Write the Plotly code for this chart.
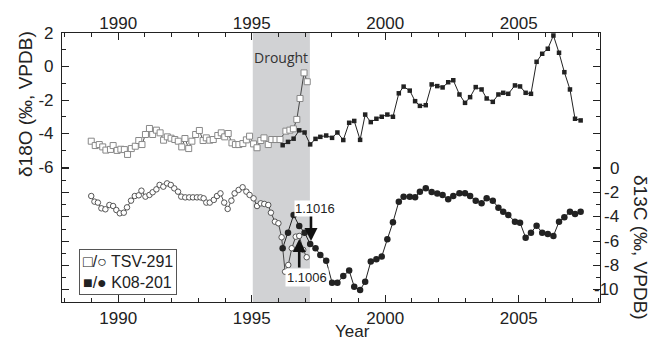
import plotly.graph_objects as go

# ---------------- data ----------------
tsv_o_years = [1988.99, 1989.14, 1989.29, 1989.42, 1989.54, 1989.71, 1989.81, 1989.96, 1990.10, 1990.23,
               1990.35, 1990.49, 1990.64, 1990.77, 1990.89, 1991.02, 1991.17, 1991.29, 1991.43, 1991.57,
               1991.70, 1991.84, 1991.98, 1992.12, 1992.25, 1992.38, 1992.50, 1992.64, 1992.76, 1992.90,
               1993.04, 1993.18, 1993.30, 1993.43, 1993.56, 1993.73, 1993.86, 1993.99, 1994.12, 1994.26,
               1994.39, 1994.52, 1994.67, 1994.80, 1994.92, 1995.07, 1995.20, 1995.34, 1995.46, 1995.62,
               1995.75, 1995.91, 1996.06, 1996.28, 1996.43, 1996.56, 1996.69, 1996.81, 1996.96, 1997.08]
tsv_d18o = [-4.46, -4.72, -4.66, -4.80, -4.99, -4.95, -4.72, -5.01, -4.94, -4.96,
            -5.25, -4.90, -4.76, -4.42, -4.66, -4.06, -3.70, -4.06, -3.80, -3.96,
            -4.40, -4.20, -4.28, -4.36, -4.46, -4.80, -4.30, -4.90, -4.46, -4.06,
            -3.82, -4.42, -4.26, -4.40, -4.36, -4.12, -3.96, -4.20, -4.00, -4.56,
            -4.66, -4.66, -4.60, -4.38, -4.16, -4.62, -4.85, -4.42, -4.26, -4.66,
            -4.36, -4.36, -4.36, -3.86, -3.80, -3.72, -3.16, -1.91, -0.38, -0.91]

tsv_c_years = [1988.99, 1989.11, 1989.24, 1989.37, 1989.52, 1989.67, 1989.81, 1989.93, 1990.06, 1990.21,
               1990.33, 1990.48, 1990.62, 1990.77, 1990.87, 1991.02, 1991.17, 1991.29, 1991.43, 1991.55,
               1991.69, 1991.83, 1991.97, 1992.10, 1992.24, 1992.36, 1992.51, 1992.66, 1992.80, 1992.95,
               1993.08, 1993.20, 1993.30, 1993.43, 1993.58, 1993.70, 1993.83, 1993.97, 1994.10, 1994.24,
               1994.36, 1994.51, 1994.66, 1994.80, 1994.92, 1995.07, 1995.20, 1995.34, 1995.47, 1995.62,
               1995.72, 1995.87, 1996.00, 1996.12, 1996.25, 1996.37, 1996.50, 1996.65, 1996.78, 1996.93,
               1997.06]
tsv_d13c = [-2.28, -2.74, -2.82, -3.29, -3.37, -3.02, -3.10, -3.43, -3.70, -3.65,
            -3.21, -2.66, -2.28, -2.22, -1.84, -2.33, -2.19, -1.97, -1.73, -1.37,
            -1.51, -1.24, -1.37, -1.65, -1.92, -2.33, -2.39, -2.39, -2.39, -2.39,
            -2.39, -2.47, -2.82, -2.82, -2.60, -2.28, -2.06, -2.82, -3.34, -2.66,
            -2.06, -1.78, -1.56, -1.92, -2.19, -2.47, -3.10, -2.88, -2.93, -3.02,
            -3.65, -4.39, -4.52, -5.67, -8.50, -7.95, -6.57, -5.62, -5.56, -6.71,
            -7.31]

k08_years = [1996.16, 1996.36, 1996.57, 1996.78, 1996.98, 1997.19, 1997.39, 1997.57, 1997.79, 1998.01,
             1998.21, 1998.43, 1998.65, 1998.84, 1999.06, 1999.25, 1999.46, 1999.67, 1999.87, 2000.08,
             2000.29, 2000.51, 2000.69, 2000.92, 2001.12, 2001.30, 2001.52, 2001.74, 2001.95, 2002.15,
             2002.36, 2002.55, 2002.78, 2002.99, 2003.18, 2003.39, 2003.61, 2003.80, 2004.03, 2004.24,
             2004.42, 2004.61, 2004.86, 2005.05, 2005.26, 2005.46, 2005.67, 2005.88, 2006.09, 2006.30,
             2006.51, 2006.71, 2006.92, 2007.11, 2007.32]
k08_d18o = [-4.70, -4.50, -4.31, -3.81, -3.94, -4.65, -4.32, -4.20, -4.12, -4.26,
            -3.94, -4.39, -3.36, -3.25, -4.38, -2.87, -3.32, -3.12, -3.00, -2.87,
            -3.00, -1.60, -1.20, -1.44, -2.07, -2.35, -2.31, -1.07, -1.17, -1.25,
            -0.94, -0.82, -1.67, -2.17, -1.83, -1.23, -1.37, -1.91, -2.11, -1.67,
            -1.57, -1.63, -1.13, -1.19, -1.57, -1.63, 0.28, 0.76, 1.06, 1.85,
            0.82, -0.34, -1.37, -3.12, -3.22]
k08_d13c = [-6.57, -5.29, -3.84, -4.74, -5.29, -6.22, -6.57, -7.12, -7.59, -9.40,
            -9.40, -8.85, -8.41, -9.73, -10.0, -9.32, -7.67, -7.48, -7.26, -5.83,
            -4.44, -2.74, -2.33, -2.33, -2.38, -1.92, -1.64, -1.95, -2.08, -2.19,
            -2.55, -2.28, -2.05, -2.05, -2.28, -2.66, -2.88, -2.47, -2.66, -3.24,
            -3.57, -3.84, -4.39, -4.47, -5.70, -5.29, -4.72, -5.29, -5.40, -5.56,
            -4.39, -4.03, -3.57, -3.76, -3.57]

year_ticks = [1990, 1995, 2000, 2005]
d18o_ticks = [2, 0, -2, -4, -6]
d13c_ticks = [0, -2, -4, -6, -8, -10]
drought_span = [1995.04, 1997.18]
arrow_1016 = (1997.22, "1.1016")
arrow_1006 = (1996.78, "1.1006")

# ---------------- layout helpers ----------------
W, H = 654, 341
L, R, T, B = 62, 54, 33, 39
PW, PH = W - L - R, H - T - B


def px(xp):
    return (xp - L) / PW


def py(yp):
    return (H - B - yp) / PH


FONT = "Liberation Sans, Arial, sans-serif"
INK = "#222222"

fig = go.Figure()

fig.add_trace(go.Scatter(
    x=tsv_o_years, y=tsv_d18o, mode="lines+markers", xaxis="x", yaxis="y",
    line=dict(color=INK, width=0.8),
    marker=dict(symbol="square", size=6, color="white", line=dict(color="#888888", width=1)),
    showlegend=False, hoverinfo="skip"))
fig.add_trace(go.Scatter(
    x=k08_years, y=k08_d18o, mode="lines+markers", xaxis="x2", yaxis="y",
    line=dict(color=INK, width=1),
    marker=dict(symbol="square", size=4.5, color=INK),
    showlegend=False, hoverinfo="skip"))
fig.add_trace(go.Scatter(
    x=tsv_c_years, y=tsv_d13c, mode="lines+markers", xaxis="x", yaxis="y2",
    line=dict(color=INK, width=0.8),
    marker=dict(symbol="circle", size=5.5, color="white", line=dict(color="#444444", width=0.9)),
    showlegend=False, hoverinfo="skip"))
fig.add_trace(go.Scatter(
    x=k08_years, y=k08_d13c, mode="lines+markers", xaxis="x", yaxis="y2",
    line=dict(color=INK, width=1),
    marker=dict(symbol="circle", size=6.5, color=INK),
    showlegend=False, hoverinfo="skip"))

x_range = [1987.895, 2008.045]
minor_years = [y for y in range(1988, 2009) if y not in year_ticks]

axis_common = dict(showgrid=False, zeroline=False, showline=True, linecolor=INK, linewidth=1.2,
                   ticks="inside", tickcolor=INK, tickwidth=1, ticklen=7, automargin=False,
                   tickfont=dict(family=FONT, size=17, color=INK))

fig.update_layout(
    width=W, height=H,
    margin=dict(l=L, r=R, t=T, b=B, pad=0, autoexpand=False),
    paper_bgcolor="white", plot_bgcolor="white",
    font=dict(family=FONT, color=INK),
    xaxis=dict(range=x_range, tickmode="array", tickvals=year_ticks,
               ticktext=[str(v) for v in year_ticks], mirror="ticks",
               minor=dict(tickmode="array", tickvals=minor_years, ticks="inside", ticklen=4,
                          tickcolor=INK, tickwidth=1),
               **axis_common),
    xaxis2=dict(range=x_range, overlaying="x", side="top", anchor="y", tickmode="array",
                tickvals=year_ticks, ticktext=[str(v) for v in year_ticks], automargin=False,
                showgrid=False, zeroline=False, showline=False, ticks="",
                tickfont=dict(family=FONT, size=17, color=INK)),
    yaxis=dict(range=[-14.06, 2], tickmode="array", tickvals=d18o_ticks,
               ticktext=[str(v) for v in d18o_ticks], mirror="ticks",
               minor=dict(tickmode="array", tickvals=[1, -1, -3, -5], ticks="inside", ticklen=4,
                          tickcolor=INK, tickwidth=1),
               ticklabelstandoff=4,
               **axis_common),
    yaxis2=dict(range=[-10.99, 11.12], overlaying="y", side="right", anchor="x",
                tickmode="array", tickvals=d13c_ticks, showticklabels=False, mirror="ticks",
                minor=dict(tickmode="array", tickvals=[-1, -3, -5, -7, -9], ticks="inside",
                           ticklen=4, tickcolor=INK, tickwidth=1),
                **axis_common),
)

fig.add_shape(type="rect", xref="x", yref="paper", x0=drought_span[0], x1=drought_span[1],
              y0=0, y1=1, fillcolor="#d1d2d4", line=dict(width=0), layer="below")

ann = []
# right axis tick labels (right aligned)
for v in d13c_ticks:
    ann.append(dict(x=px(621), xref="paper", y=v, yref="y2", text=str(v), showarrow=False,
                    xanchor="right", yanchor="middle", font=dict(family=FONT, size=17, color=INK)))
# axis titles
ann.append(dict(x=px(26), xref="paper", y=py(104), yref="paper", text="δ18O (‰, VPDB)",
                textangle=-90, showarrow=False, xanchor="center", yanchor="middle",
                font=dict(family=FONT, size=19, color=INK)))
ann.append(dict(x=px(641), xref="paper", y=py(247), yref="paper", text="δ13C (‰, VPDB)",
                textangle=90, showarrow=False, xanchor="center", yanchor="middle",
                font=dict(family=FONT, size=19, color=INK)))
ann.append(dict(x=px(352), xref="paper", y=py(331), yref="paper", text="Year",
                showarrow=False, xanchor="center", yanchor="middle",
                font=dict(family=FONT, size=17, color=INK)))
# drought label
ann.append(dict(x=sum(drought_span) / 2, xref="x", y=py(58), yref="paper", text="Drought",
                showarrow=False, xanchor="center", yanchor="middle",
                font=dict(family="Open Sans, sans-serif", size=14, color="#333333")))
# arrows
ann.append(dict(x=arrow_1016[0], xref="x", y=py(241), yref="paper", text="", showarrow=True,
                ax=0, ay=-27, arrowhead=2, arrowsize=1, arrowwidth=2.6, arrowcolor="#111111"))
ann.append(dict(x=arrow_1006[0], xref="x", y=py(239), yref="paper", text="", showarrow=True,
                ax=0, ay=30, arrowhead=2, arrowsize=1, arrowwidth=2.6, arrowcolor="#111111"))
ann.append(dict(x=px(315), xref="paper", y=py(208), yref="paper", text=arrow_1016[1],
                showarrow=False, xanchor="center", yanchor="middle", bgcolor="white", borderpad=0,
                font=dict(family=FONT, size=13, color=INK)))
ann.append(dict(x=px(307), xref="paper", y=py(277), yref="paper", text=arrow_1006[1],
                showarrow=False, xanchor="center", yanchor="middle", bgcolor="white", borderpad=1,
                font=dict(family=FONT, size=13, color=INK)))
# legend box
ann.append(dict(x=px(79), xref="paper", y=py(249), yref="paper",
                text="□/○ TSV-291<br>■/● K08-201", align="left",
                showarrow=False, xanchor="left", yanchor="top", bgcolor="white",
                bordercolor="#555555", borderwidth=1, borderpad=3,
                font=dict(family=FONT, size=16, color=INK)))
fig.update_layout(annotations=ann)

fig.write_html("out.html", config={"displayModeBar": False},
               post_script="document.body.style.margin='0px';")
